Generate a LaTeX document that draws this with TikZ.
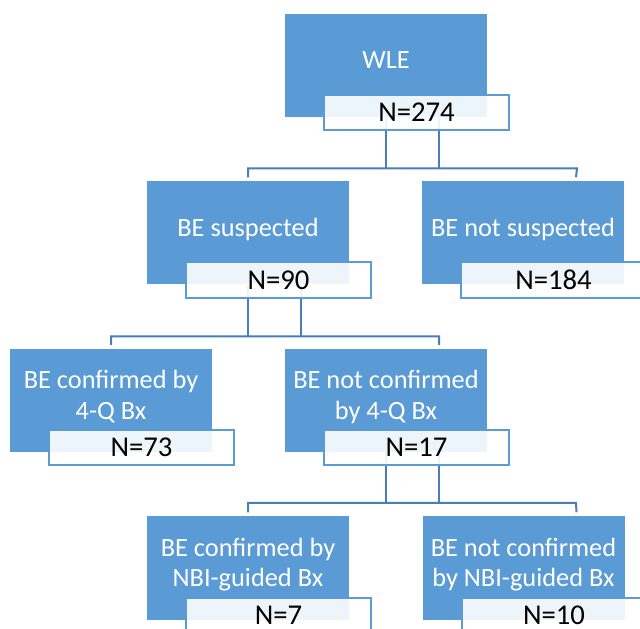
\documentclass[tikz,border=0pt]{standalone}
\usepackage{fontspec}
\setmainfont{Carlito}
\definecolor{boxBlue}{HTML}{5B9BD5}
\definecolor{linkBlue}{HTML}{4A7EBB}
\begin{document}
\begin{tikzpicture}[x=0.03cm, y=-0.03cm, boxStyle/.style={rectangle, fill=boxBlue, text=white, minimum width=6.06cm, minimum height=3.09cm, inner sep=0pt, align=center, font=\fontsize{22.5}{26}\selectfont, text depth=0.35cm}, countStyle/.style={rectangle, draw=boxBlue, line width=0.06cm, fill=white, fill opacity=0.9, text opacity=1, minimum width=5.55cm, minimum height=1.05cm, inner sep=0pt, font=\fontsize{24.5}{28}\selectfont}, linkStyle/.style={draw=linkBlue, line width=0.06cm}]
                    \useasboundingbox (0,0) rectangle (640,629);
                    \clip (0,0) rectangle (640,629);

                    \node[boxStyle] (wle)   at (386,   65.5) {WLE};
                    \node[boxStyle] (sus)   at (248,  233)   {BE suspected};
                    \node[boxStyle] (nsus)  at (523,  233)   {BE not suspected};
                    \node[boxStyle] (conf)  at (111,  400.5) {BE confirmed by\\4-Q Bx};
                    \node[boxStyle] (nconf) at (386,  400.5) {BE not confirmed\\by 4-Q Bx};
                    \node[boxStyle] (nbic)  at (248,  568)   {BE confirmed by\\NBI-guided Bx};
                    \node[boxStyle] (nbin)  at (523.5, 568)  {BE not confirmed\\by NBI-guided Bx};

                    \coordinate (bar1_L) at (248, 168.5);
                    \coordinate (bar1_R) at (577, 168.5);
                    \coordinate (bar2_L) at (111, 336.5);
                    \coordinate (bar2_R) at (439, 336.5);
                    \coordinate (bar3_L) at (248, 503);
                    \coordinate (bar3_R) at (576, 503);

                    \coordinate (wle_b)   at ([xshift=1.59cm]wle.south);
                    \coordinate (sus_b)   at ([xshift=1.59cm]sus.south);
                    \coordinate (nconf_b) at ([xshift=1.59cm]nconf.south);

                    \coordinate (nsus_t)  at ([xshift=1.59cm, yshift=0.12cm]nsus.north);
                    \coordinate (nconf_t) at ([xshift=1.59cm, yshift=0.12cm]nconf.north);
                    \coordinate (nbin_t)  at ([xshift=1.59cm, yshift=0.12cm]nbin.north);

                    \draw[linkStyle] (wle.south) -- (wle.south |- bar1_L);
                    \draw[linkStyle] (wle_b) -- (wle_b |- bar1_L);
                    \draw[linkStyle] ([yshift=0.12cm]sus.north) -- (bar1_L) -- (bar1_R) -- (nsus_t);

                    \draw[linkStyle] (sus.south) -- (sus.south |- bar2_L);
                    \draw[linkStyle] (sus_b) -- (sus_b |- bar2_L);
                    \draw[linkStyle] ([yshift=0.12cm]conf.north) -- (bar2_L) -- (bar2_R) -- (nconf_t);

                    \draw[linkStyle] (nconf.south) -- (nconf.south |- bar3_L);
                    \draw[linkStyle] (nconf_b) -- (nconf_b |- bar3_L);
                    \draw[linkStyle] ([yshift=0.12cm]nbic.north) -- (bar3_L) -- (bar3_R) -- (nbin_t);

                    \node[countStyle] (wle_n)   at ([xshift=0.915cm, yshift=-1.41cm]wle.center)   {N=274};
                    \node[countStyle] (sus_n)   at ([xshift=0.915cm, yshift=-1.41cm]sus.center)   {N=90};
                    \node[countStyle] (nsus_n)  at ([xshift=0.915cm, yshift=-1.41cm]nsus.center)  {N=184};
                    \node[countStyle] (conf_n)  at ([xshift=0.915cm, yshift=-1.41cm]conf.center)  {N=73};
                    \node[countStyle] (nconf_n) at ([xshift=0.915cm, yshift=-1.41cm]nconf.center) {N=17};
                    \node[countStyle] (nbic_n)  at ([xshift=0.915cm, yshift=-1.41cm]nbic.center)  {N=7};
                    \node[countStyle] (nbin_n)  at ([xshift=0.915cm, yshift=-1.41cm]nbin.center)  {N=10};
\end{tikzpicture}
\end{document}
